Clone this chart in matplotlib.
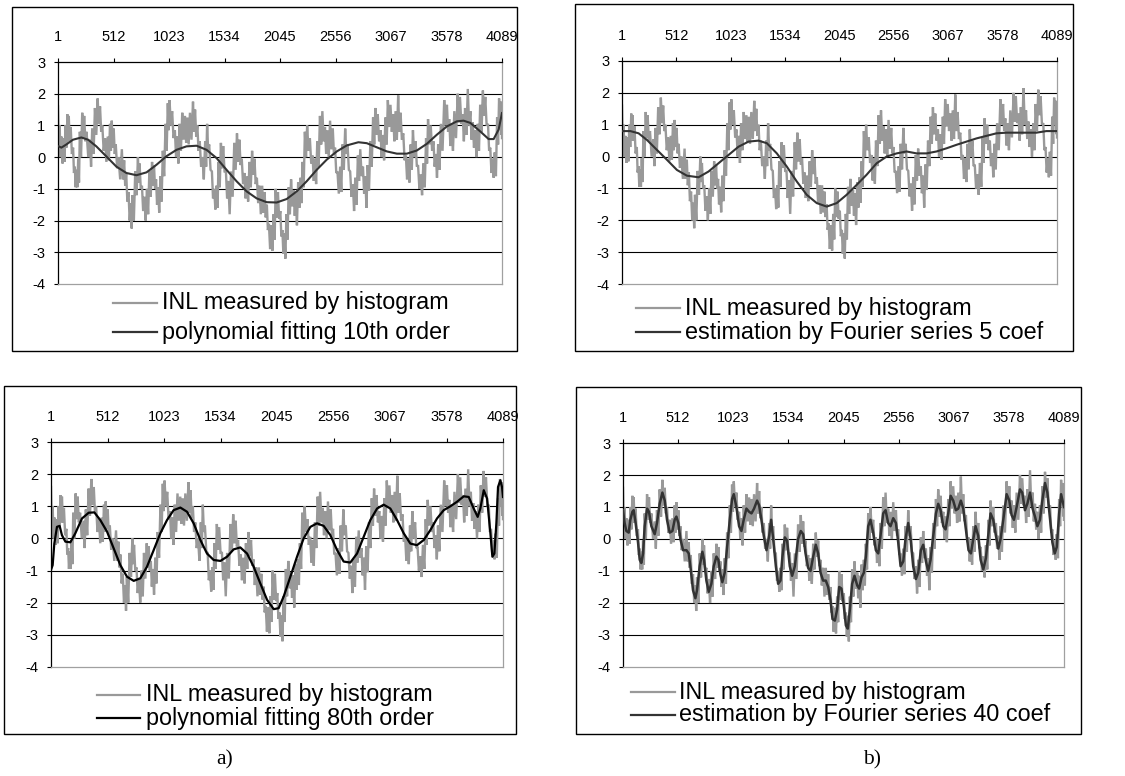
import numpy as np
import matplotlib
matplotlib.use("Agg")
import matplotlib.pyplot as plt
from matplotlib.patches import Rectangle

# ---------------- data ----------------
x_tick_codes = [1, 512, 1023, 1534, 2045, 2556, 3067, 3578, 4089]
x_tick_labels = ["1", "512", "1023", "1534", "2045", "2556", "3067", "3578", "4089"]
y_ticks = [3, 2, 1, 0, -1, -2, -3, -4]

# INL measured by histogram (read as upper / lower extremes of the dense trace)
inl_codes = [1, 16, 32, 54, 69, 88, 100, 118, 140, 156,
             171, 187, 202, 224, 242, 264, 295, 316, 341, 366,
             388, 409, 434, 459, 480, 496, 514, 533, 558, 589,
             610, 629, 650, 672, 687, 712, 737, 752, 774, 796,
             820, 842, 867, 885, 904, 922, 944, 966, 991, 1012,
             1028, 1052, 1077, 1099, 1120, 1145, 1170, 1192, 1216, 1244,
             1263, 1284, 1306, 1331, 1356, 1374, 1393, 1418, 1439, 1461,
             1479, 1501, 1522, 1547, 1569, 1594, 1624, 1649, 1671, 1693,
             1717, 1739, 1764, 1788, 1810, 1832, 1856, 1881, 1903, 1924,
             1943, 1965, 1986, 2005, 2026, 2048, 2067, 2085, 2104, 2125,
             2147, 2172, 2190, 2212, 2234, 2252, 2274, 2295, 2320, 2345,
             2367, 2388, 2413, 2435, 2459, 2481, 2506, 2531, 2552, 2574,
             2599, 2620, 2645, 2667, 2691, 2716, 2738, 2762, 2784, 2809,
             2830, 2852, 2877, 2902, 2923, 2945, 2970, 2991, 3016, 3038,
             3062, 3087, 3109, 3133, 3155, 3180, 3204, 3226, 3248, 3269,
             3294, 3316, 3341, 3365, 3390, 3408, 3433, 3458, 3480, 3501,
             3526, 3557, 3582, 3603, 3625, 3650, 3681, 3702, 3727, 3749,
             3774, 3798, 3820, 3842, 3866, 3888, 3913, 3935, 3960, 3981,
             4003, 4022, 4044, 4062, 4083, 4089]

inl_hi = [1.6, 1.0, 0.65, 0.6, 1.0, 1.35, 1.3, 0.95, 0.3, -0.3,
          -0.4, -0.05, 0.8, 1.4, 1.3, 0.8, 0.55, 0.9, 1.55, 1.85,
          1.6, 1.0, 0.6, 0.65, 1.05, 1.15, 0.9, 0.4, 0.0, 0.25,
          -0.1, -0.5, -1.1, -1.45, -1.2, -0.45, 0.0, -0.2, -0.9, -1.25,
          -1.0, -0.45, -0.15, -0.25, -0.7, -0.95, -0.6, 0.2, 1.05, 1.7,
          1.8, 1.45, 0.85, 0.65, 1.05, 1.4, 1.3, 1.25, 1.4, 1.75,
          1.5, 1.0, 0.5, 0.0, 0.5, 1.05, 0.4, -0.45, -1.0, -0.9,
          -0.15, 0.45, 0.35, -0.45, -0.75, -0.45, 0.45, 0.75, 0.55, -0.05,
          -0.5, -0.6, -0.15, 0.2, -0.05, -0.65, -0.9, -0.9, -1.1, -1.5,
          -2.1, -2.15, -1.8, -1.0, -1.1, -1.7, -2.3, -2.4, -1.8, -0.95,
          -0.7, -1.05, -1.15, -0.8, -0.65, -0.15, 0.8, 1.0, 0.6, 0.05,
          -0.05, 0.5, 1.3, 1.45, 0.95, 0.85, 1.15, 0.9, 0.3, -0.45,
          -0.3, 0.4, 0.9, 0.4, -0.45, -0.85, -0.65, 0.05, 0.25, -0.3,
          -0.6, -0.25, 0.5, 1.25, 1.55, 1.35, 0.85, 0.7, 1.25, 1.8,
          1.65, 1.35, 1.45, 1.95, 1.4, 0.75, 0.05, -0.05, 0.4, 0.85,
          0.5, -0.25, -0.55, -0.2, 0.6, 1.2, 1.0, 0.5, 0.1, 0.4,
          1.05, 1.8, 1.65, 1.2, 1.05, 1.45, 2.0, 1.9, 1.35, 1.55,
          2.15, 1.45, 1.1, 0.85, 1.05, 1.65, 2.1, 1.9, 1.05, 0.3,
          -0.05, 0.15, 1.25, 1.85, 1.75, 1.4]

inl_lo = [0.3, 0.0, -0.2, -0.15, 0.3, 0.5, 0.5, 0.1, -0.5, -0.95,
          -0.95, -0.8, 0.0, 0.6, 0.5, 0.0, -0.3, 0.1, 0.7, 1.05,
          0.8, 0.2, -0.15, -0.1, 0.2, 0.3, 0.1, -0.35, -0.7, -0.7,
          -0.9, -1.4, -2.0, -2.25, -2.0, -1.2, -0.8, -1.0, -1.7, -2.0,
          -1.8, -1.25, -0.9, -1.0, -1.5, -1.75, -1.4, -0.6, 0.2, 0.85,
          1.0, 0.6, 0.0, -0.2, 0.2, 0.55, 0.45, 0.4, 0.55, 0.8,
          0.65, 0.2, -0.3, -0.7, -0.3, 0.2, -0.4, -1.3, -1.65, -1.6,
          -0.95, -0.35, -0.45, -1.3, -1.8, -1.25, -0.4, -0.15, -0.25, -0.85,
          -1.3, -1.4, -0.95, -0.55, -0.85, -1.45, -1.8, -1.75, -1.9, -2.3,
          -2.9, -2.95, -2.6, -1.9, -1.95, -2.5, -3.05, -3.2, -2.6, -1.8,
          -1.55, -1.85, -2.15, -1.6, -1.45, -0.95, 0.0, 0.2, -0.2, -0.75,
          -0.85, -0.3, 0.4, 0.5, 0.1, 0.0, 0.25, 0.1, -0.5, -1.15,
          -1.1, -0.4, 0.1, -0.4, -1.25, -1.7, -1.5, -0.75, -0.6, -1.15,
          -1.6, -1.05, -0.3, 0.4, 0.7, 0.5, 0.0, -0.1, 0.4, 0.95,
          0.8, 0.5, 0.55, 0.8, 0.55, -0.1, -0.7, -0.8, -0.4, 0.0,
          -0.3, -1.0, -1.2, -0.95, -0.2, 0.4, 0.2, -0.3, -0.65, -0.4,
          0.2, 1.0, 0.8, 0.35, 0.2, 0.6, 1.1, 1.05, 0.5, 0.7,
          1.0, 0.55, 0.3, 0.0, 0.2, 0.8, 1.3, 1.0, 0.2, -0.5,
          -0.65, -0.6, 0.4, 1.0, 0.7, 0.6]

# Estimation by Fourier series, 40 coefficients (same codes as inl_codes)
fourier40_vals = [0.9, 0.5, 0.25, 0.2, 0.6, 0.85, 0.9, 0.5, -0.1, -0.65,
                  -0.75, -0.45, 0.4, 0.95, 0.85, 0.4, 0.15, 0.5, 1.1, 1.45,
                  1.2, 0.6, 0.2, 0.25, 0.6, 0.7, 0.5, 0.0, -0.35, -0.35,
                  -0.45, -0.95, -1.6, -1.85, -1.6, -0.85, -0.4, -0.65, -1.3, -1.65,
                  -1.4, -0.85, -0.55, -0.65, -1.1, -1.35, -1.05, -0.25, 0.6, 1.25,
                  1.4, 1.0, 0.4, 0.25, 0.6, 0.95, 0.85, 0.8, 0.95, 1.2,
                  1.05, 0.6, 0.1, -0.35, 0.1, 0.6, 0.0, -0.85, -1.4, -1.3,
                  -0.55, 0.05, -0.05, -0.85, -1.15, -0.85, 0.0, 0.25, 0.15, -0.45,
                  -0.9, -1.0, -0.55, -0.18, -0.45, -1.05, -1.3, -1.3, -1.5, -1.9,
                  -2.5, -2.55, -2.2, -1.5, -1.55, -2.1, -2.7, -2.8, -2.2, -1.4,
                  -1.15, -1.45, -1.55, -1.2, -1.05, -0.55, 0.4, 0.6, 0.2, -0.35,
                  -0.45, 0.1, 0.8, 0.9, 0.5, 0.4, 0.65, 0.5, -0.1, -0.85,
                  -0.7, 0.0, 0.5, 0.0, -0.85, -1.25, -1.05, -0.35, -0.18, -0.7,
                  -1.0, -0.65, 0.1, 0.8, 1.1, 0.9, 0.4, 0.3, 0.8, 1.35,
                  1.2, 0.9, 0.95, 1.2, 0.95, 0.3, -0.35, -0.45, 0.0, 0.4,
                  0.1, -0.65, -0.95, -0.6, 0.2, 0.8, 0.6, 0.1, -0.3, 0.0,
                  0.6, 1.4, 1.2, 0.75, 0.6, 1.0, 1.55, 1.45, 0.9, 1.1,
                  1.45, 0.95, 0.7, 0.4, 0.6, 1.2, 1.75, 1.45, 0.6, -0.1,
                  -0.45, -0.25, 0.8, 1.4, 1.1, 1.0]

# Polynomial fitting 10th order
poly10_codes = [1, 32, 78, 139, 216, 278, 354, 447, 539, 631, 723, 816, 908, 1000,
                1092, 1184, 1277, 1369, 1461, 1553, 1645, 1738, 1830, 1922, 2014,
                2107, 2199, 2291, 2383, 2475, 2568, 2660, 2767, 2844, 2936, 3029,
                3121, 3213, 3305, 3397, 3490, 3582, 3674, 3735, 3797, 3889, 3966,
                4012, 4058, 4089]
poly10_vals = [0.35, 0.3, 0.4, 0.55, 0.62, 0.55, 0.34, 0.02, -0.3, -0.5, -0.57,
               -0.48, -0.24, 0.03, 0.23, 0.34, 0.36, 0.23, -0.03, -0.4, -0.76,
               -1.08, -1.3, -1.42, -1.43, -1.32, -1.08, -0.76, -0.4, -0.08, 0.18,
               0.37, 0.47, 0.44, 0.31, 0.18, 0.11, 0.11, 0.21, 0.42, 0.71, 0.97,
               1.13, 1.15, 1.08, 0.81, 0.57, 0.57, 0.87, 1.39]

# Estimation by Fourier series, 5 coefficients
fourier5_codes = [1, 79, 157, 236, 329, 423, 517, 611, 720, 814, 908, 1002, 1096,
                  1190, 1283, 1362, 1456, 1549, 1643, 1737, 1831, 1925, 2019, 2112,
                  2206, 2300, 2394, 2488, 2582, 2675, 2769, 2863, 2957, 3051, 3145,
                  3239, 3332, 3426, 3520, 3614, 3708, 3802, 3895, 3989, 4089]
fourier5_vals = [0.8, 0.8, 0.73, 0.52, 0.21, -0.1, -0.42, -0.6, -0.65, -0.47, -0.21,
                 0.05, 0.31, 0.47, 0.5, 0.42, 0.1, -0.31, -0.78, -1.2, -1.46, -1.57,
                 -1.46, -1.2, -0.89, -0.57, -0.21, 0.0, 0.1, 0.16, 0.1, 0.1, 0.16,
                 0.26, 0.37, 0.47, 0.57, 0.65, 0.73, 0.75, 0.75, 0.75, 0.75, 0.8, 0.8]

# Polynomial fitting 80th order
poly80_codes = [1, 16, 31, 55, 79, 100, 131, 176, 221, 281, 342, 393, 447, 508, 568,
                628, 688, 749, 809, 869, 930, 990, 1050, 1110, 1171, 1231, 1291,
                1352, 1412, 1472, 1533, 1593, 1653, 1713, 1774, 1834, 1894, 1955,
                2015, 2060, 2105, 2166, 2226, 2286, 2347, 2407, 2467, 2528, 2588,
                2648, 2708, 2769, 2829, 2889, 2950, 3010, 3070, 3131, 3191, 3251,
                3311, 3372, 3432, 3492, 3553, 3613, 3673, 3734, 3779, 3824, 3860,
                3884, 3915, 3945, 3975, 3993, 4011, 4029, 4044, 4065, 4080, 4089]
poly80_vals = [-0.98, -0.83, -0.16, 0.36, 0.39, 0.1, -0.1, -0.12, 0.16, 0.62, 0.8,
               0.81, 0.57, 0.21, -0.31, -0.83, -1.19, -1.32, -1.24, -0.88, -0.36,
               0.16, 0.57, 0.88, 0.96, 0.83, 0.47, -0.05, -0.47, -0.67, -0.7, -0.57,
               -0.34, -0.28, -0.47, -0.88, -1.4, -1.91, -2.2, -2.17, -1.81, -1.19,
               -0.57, 0.0, 0.36, 0.47, 0.39, 0.1, -0.36, -0.72, -0.75, -0.47, 0.05,
               0.57, 0.93, 1.05, 0.93, 0.57, 0.16, -0.16, -0.21, -0.05, 0.26, 0.62,
               0.88, 1.0, 1.14, 1.31, 1.29, 0.93, 0.67, 0.93, 1.5, 1.24, 0.16, -0.57,
               -0.47, 0.47, 1.6, 1.81, 1.6, 1.29]

panels = [
    dict(title="polynomial fitting 10th order", codes=poly10_codes, vals=poly10_vals,
         color="#333333", lw=1.5,
         plot=(58, 62, 502, 284), frame=(12, 7, 517, 351),
         leg=(113, 157, 162, 303, 332)),
    dict(title="estimation by Fourier series 5 coef", codes=fourier5_codes, vals=fourier5_vals,
         color="#333333", lw=1.5,
         plot=(622, 61, 1057, 284), frame=(575, 4, 1073, 351),
         leg=(636, 680, 685, 308, 332)),
    dict(title="polynomial fitting 80th order", codes=poly80_codes, vals=poly80_vals,
         color="#000000", lw=1.6,
         plot=(51, 442, 503, 667), frame=(4, 386, 516, 734),
         leg=(97, 140, 146, 695, 718)),
    dict(title="estimation by Fourier series 40 coef", codes=inl_codes, vals=fourier40_vals,
         color="#333333", lw=1.8,
         plot=(623, 443, 1064, 667), frame=(576, 387, 1081, 734),
         leg=(631, 675, 679, 692, 715)),
]

W, H = 1125, 776
fig = plt.figure(figsize=(W / 100, H / 100), dpi=100)
fig.patch.set_facecolor("white")

# overlay in pixel coordinates for frames, legends and captions
ov = fig.add_axes([0, 0, 1, 1])
ov.set_xlim(0, W)
ov.set_ylim(H, 0)
ov.axis("off")

SANS = "Liberation Sans"
GRAY = "#999999"

# zigzag of the dense histogram trace
codes = np.asarray(inl_codes, dtype=float)
mids = np.append((codes[:-1] + codes[1:]) / 2.0, codes[-1])
zig_x = np.empty(2 * len(codes))
zig_y = np.empty(2 * len(codes))
zig_x[0::2] = codes
zig_x[1::2] = mids
zig_y[0::2] = inl_hi
zig_y[1::2] = inl_lo

for p in panels:
    x0, y0, x1, y1 = p["plot"]
    ax = fig.add_axes([x0 / W, 1 - y1 / H, (x1 - x0) / W, (y1 - y0) / H])
    ax.set_xlim(1, 4089)
    ax.set_ylim(-4, 3)
    for y in y_ticks[1:-1]:
        ax.axhline(y, color="black", lw=0.8, zorder=1)
    ax.plot(zig_x, zig_y, color=GRAY, lw=1.7, zorder=2, solid_joinstyle="miter")
    ax.plot(p["codes"], p["vals"], color=p["color"], lw=p["lw"], zorder=3)
    ax.xaxis.tick_top()
    ax.set_xticks(x_tick_codes)
    ax.set_xticklabels(x_tick_labels, fontfamily=SANS, fontsize=10.5)
    ax.set_yticks(y_ticks)
    ax.set_yticklabels([str(v) for v in y_ticks], fontfamily=SANS, fontsize=10.5)
    ax.tick_params(axis="x", direction="out", length=3, width=0.8, pad=10)
    ax.tick_params(axis="y", direction="out", length=3, width=0.8, pad=6)
    ax.spines["left"].set_color("black")
    ax.spines["top"].set_color("black")
    ax.spines["right"].set_color("#a0a0a0")
    ax.spines["bottom"].set_color("#a0a0a0")
    for s in ax.spines.values():
        s.set_linewidth(0.9)

    fx0, fy0, fx1, fy1 = p["frame"]
    ov.add_patch(Rectangle((fx0, fy0), fx1 - fx0, fy1 - fy0, fill=False,
                           edgecolor="black", lw=1.0))
    lx0, lx1, tx, r1, r2 = p["leg"]
    ov.plot([lx0, lx1], [r1, r1], color=GRAY, lw=1.6)
    ov.plot([lx0, lx1], [r2, r2], color=p["color"], lw=1.6)
    ov.text(tx, r1, "INL measured by histogram", fontfamily=SANS, fontsize=16.8,
            va="center", ha="left")
    ov.text(tx, r2, p["title"], fontfamily=SANS, fontsize=16.8, va="center", ha="left")

ov.text(225, 760, "a)", fontfamily="Liberation Serif", fontsize=15.5, ha="center", va="center")
ov.text(872, 760, "b)", fontfamily="Liberation Serif", fontsize=15.5, ha="center", va="center")

fig.savefig("out.png", dpi=100, facecolor="white")
